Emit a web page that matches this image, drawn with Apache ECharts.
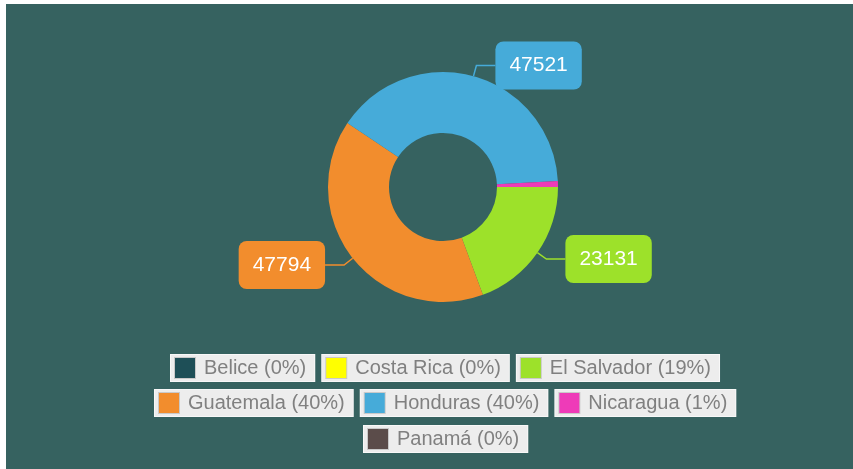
<!DOCTYPE html>
<html lang="es">
<head>
  <meta charset="UTF-8">
  <title>Centroamérica</title>
  <script src="https://cdn.jsdelivr.net/npm/echarts@6/dist/echarts.min.js"></script>
  <style>
    html, body {
      margin: 0;
      padding: 0;
      background: #ffffff;
    }
    #main {
      position: absolute;
      left: 6px;
      top: 4px;
      width: 847px;
      height: 465px;
    }
  </style>
</head>
<body>
  <div id="main"></div>

  <script>
    const paises = ['Belice', 'Costa Rica', 'El Salvador', 'Guatemala', 'Honduras', 'Nicaragua', 'Panamá'];
    const valores = [0, 0, 23131, 47794, 47521, 1000, 0];
    const colores = ['#1e4f57', '#ffff00', '#9de12a', '#f28d2d', '#46abd9', '#ee3bb8', '#5b4c4a'];
    const conEtiqueta = ['El Salvador', 'Guatemala', 'Honduras'];
    const filas = [
      ['Belice', 'Costa Rica', 'El Salvador'],
      ['Guatemala', 'Honduras', 'Nicaragua'],
      ['Panamá']
    ];

    const total = valores.reduce((a, b) => a + b, 0);
    const chart = echarts.init(document.getElementById('main'));

    // cuadrito de color por pais dentro del texto de la leyenda
    const rich = { t: { fontSize: 20, color: '#808080', padding: [0, 0, 0, 9], fontFamily: 'Liberation Sans, Arial, sans-serif' } };
    paises.forEach((p, i) => {
      rich['s' + i] = {
        width: 20,
        height: 20,
        backgroundColor: colores[i],
        borderColor: 'rgba(0,0,0,0.15)',
        borderWidth: 1
      };
    });

    const posFilas = [
      { left: 155, top: 345 },
      { left: 139, top: 380 },
      { left: 348, top: 416 }
    ];

    const legends = filas.map((fila, k) => ({
      data: fila,
      orient: 'horizontal',
      left: posFilas[k].left,
      top: posFilas[k].top,
      itemWidth: 0,
      itemHeight: 0,
      itemGap: 2,
      selectedMode: false,
      formatter: name => {
        const i = paises.indexOf(name);
        const pct = Math.round(valores[i] / total * 100);
        return '{s' + i + '|}{t|' + name + ' (' + pct + '%)}';
      },
      textStyle: {
        backgroundColor: '#ededed',
        borderColor: '#f8f8f8',
        borderWidth: 1,
        padding: [3, 8, 3, 4],
        rich: rich
      }
    }));

    const option = {
      backgroundColor: '#366260',
      color: colores,
      legend: legends,
      series: [{
        name: 'Centroamérica',
        type: 'pie',
        center: [437, 183],
        radius: [54, 115],
        startAngle: 0,
        clockwise: true,
        avoidLabelOverlap: false,
        label: { show: false },
        labelLine: { show: false },
        data: paises.map((p, i) => {
          const d = { name: p, value: valores[i], itemStyle: { color: colores[i] } };
          if (conEtiqueta.includes(p)) {
            d.label = {
              show: true,
              position: 'outside',
              formatter: '{c}',
              color: '#ffffff',
              fontSize: 21,
              lineHeight: 22,
              fontFamily: 'Liberation Sans, Arial, sans-serif',
              backgroundColor: colores[i],
              borderRadius: 8,
              padding: [13, 14],
              distanceToLabelLine: 0
            };
            d.labelLine = {
              show: true,
              length: 11,
              length2: 19,
              lineStyle: { color: colores[i], width: 1.5 }
            };
          }
          return d;
        })
      }]
    };

    chart.setOption(option);
  </script>
</body>
</html>
